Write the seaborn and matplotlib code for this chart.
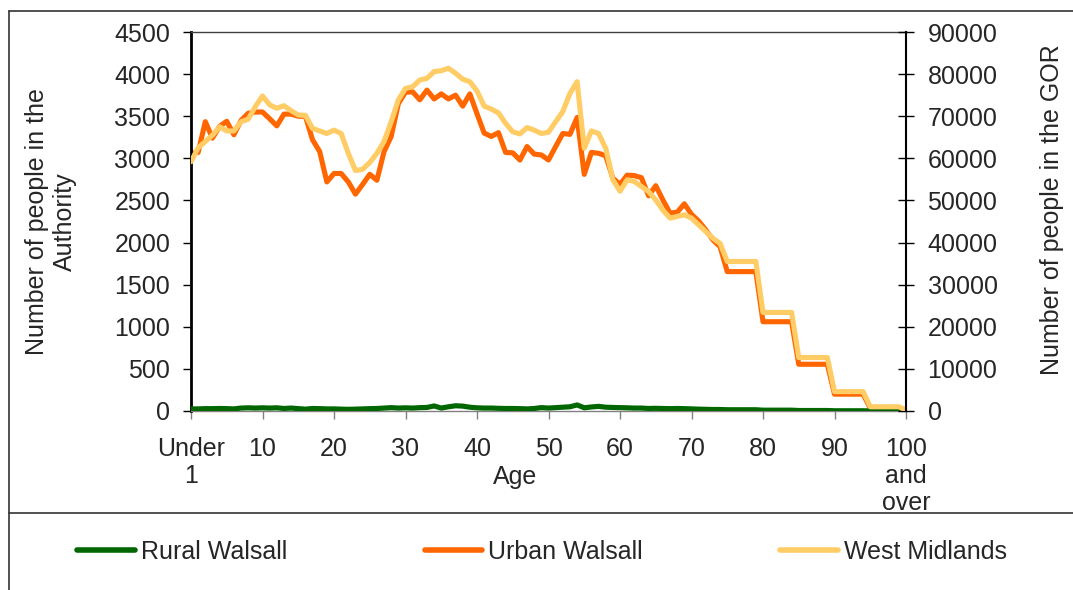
import matplotlib
matplotlib.use("Agg")
import matplotlib.pyplot as plt
from matplotlib.lines import Line2D
import numpy as np
import pandas as pd
import seaborn as sns

ages = list(range(0, 101))

urban_walsall = [
    3060, 3070, 3435, 3240, 3380, 3440, 3280, 3450, 3535, 3550,
    3550, 3470, 3385, 3525, 3525, 3500, 3500, 3220, 3080, 2720,
    2820, 2820, 2720, 2575, 2690, 2810, 2740, 3080, 3260, 3650,
    3785, 3790, 3695, 3810, 3705, 3765, 3705, 3750, 3620, 3765,
    3530, 3300, 3260, 3305, 3070, 3065, 2980, 3140, 3050, 3040,
    2980, 3140, 3295, 3285, 3485, 2810, 3070, 3060, 3030, 2765,
    2690, 2800, 2795, 2770, 2555, 2675, 2505, 2350, 2360, 2460,
    2335, 2255, 2150, 2030, 1950, 1655, 1655, 1655, 1655, 1655,
    1060, 1060, 1060, 1060, 1060, 555, 555, 555, 555, 555,
    200, 200, 200, 200, 200, 35, 35, 35, 35, 35,
    12,
]

west_midlands = [
    59200, 62500, 64000, 65500, 67500, 66500, 66500, 68700, 69300, 72300,
    74800, 72700, 71900, 72500, 71300, 70300, 70200, 67100, 66500, 65900,
    66700, 65900, 61200, 57100, 57400, 59000, 61200, 64000, 68700, 73900,
    76600, 77000, 78600, 79000, 80600, 80800, 81400, 80200, 78800, 78200,
    76000, 72400, 71700, 70800, 68300, 66300, 65800, 67300, 66700, 65900,
    66200, 68700, 71100, 75400, 78200, 62400, 66500, 65900, 62400, 54900,
    52200, 54900, 54500, 53300, 52100, 50100, 47700, 45800, 46200, 46600,
    45800, 44200, 42600, 41000, 39800, 35500, 35500, 35500, 35500, 35500,
    23400, 23400, 23400, 23400, 23400, 12700, 12700, 12700, 12700, 12700,
    4600, 4600, 4600, 4600, 4600, 1000, 1000, 1000, 1000, 1000,
    240,
]

rural_walsall = [
    25, 25, 28, 28, 30, 28, 25, 35, 38, 35,
    38, 35, 38, 30, 35, 28, 22, 30, 28, 25,
    25, 22, 20, 22, 25, 28, 30, 35, 40, 35,
    38, 35, 40, 42, 60, 35, 50, 62, 58, 45,
    38, 35, 35, 32, 30, 30, 28, 25, 30, 40,
    35, 40, 45, 50, 72, 38, 48, 55, 45, 42,
    40, 38, 35, 35, 30, 32, 30, 28, 30, 28,
    25, 22, 20, 18, 18, 15, 15, 15, 15, 15,
    10, 10, 10, 10, 10, 6, 6, 6, 6, 6,
    3, 3, 3, 3, 3, 1, 1, 1, 1, 1,
    0,
]

series_names = ["Rural Walsall", "Urban Walsall", "West Midlands"]
series_colors = ["#006600", "#FF6600", "#FFCC66"]

x_tick_values = [0, 10, 20, 30, 40, 50, 60, 70, 80, 90, 100]
x_tick_labels = ["Under\n1", "10", "20", "30", "40", "50", "60", "70", "80", "90", "100\nand\nover"]
left_ticks = list(range(0, 4501, 500))
right_ticks = list(range(0, 90001, 10000))

df = pd.DataFrame({
    "Age": ages,
    "Rural Walsall": rural_walsall,
    "Urban Walsall": urban_walsall,
    "West Midlands": west_midlands,
})

sns.set_style("white")
plt.rcParams["font.family"] = ["Liberation Sans", "DejaVu Sans"]
FS = 18

W, H = 1073, 590
fig = plt.figure(figsize=(W / 100, H / 100), dpi=100)
L, R, T, B = 191, 906, 32, 411
ax = fig.add_axes([L / W, 1 - B / H, (R - L) / W, (B - T) / H])
ax2 = ax.twinx()

lw = 3.7
sns.lineplot(data=df, x="Age", y="Rural Walsall", ax=ax, color=series_colors[0],
             linewidth=lw, label=series_names[0], zorder=3)
sns.lineplot(data=df, x="Age", y="Urban Walsall", ax=ax, color=series_colors[1],
             linewidth=lw, label=series_names[1], zorder=2)
sns.lineplot(data=df, x="Age", y="West Midlands", ax=ax2, color=series_colors[2],
             linewidth=lw, label=series_names[2])
for a in (ax, ax2):
    if a.get_legend() is not None:
        a.get_legend().remove()

ax.set_xlim(0, 100)
ax.set_ylim(0, 4500)
ax2.set_ylim(0, 90000)

ax.set_xticks(x_tick_values)
ax.set_xticklabels(x_tick_labels, fontsize=FS, linespacing=1.15)
ax.set_yticks(left_ticks)
ax.set_yticklabels([str(v) for v in left_ticks], fontsize=FS)
ax2.set_yticks(right_ticks)
ax2.set_yticklabels([str(v) for v in right_ticks], fontsize=FS)

ax.tick_params(axis="x", direction="out", length=6, width=1, color="#808080", pad=13, bottom=True)
ax.tick_params(axis="y", direction="out", length=6, width=1, color="black", pad=9, left=True)
ax2.tick_params(axis="y", direction="inout", length=11, width=1, color="black", pad=10, right=True)

for s in ["left", "right", "top", "bottom"]:
    ax.spines[s].set_visible(True)
ax.spines["left"].set_color("black")
ax.spines["left"].set_linewidth(2)
ax.spines["top"].set_color("#404040")
ax.spines["top"].set_linewidth(1)
ax.spines["bottom"].set_color("#808080")
ax.spines["bottom"].set_linewidth(1)
ax.spines["right"].set_visible(False)
for s in ["left", "top", "bottom"]:
    ax2.spines[s].set_visible(False)
ax2.spines["right"].set_visible(True)
ax2.spines["right"].set_color("black")
ax2.spines["right"].set_linewidth(1.5)

ax.set_xlabel("Age", fontsize=FS)
ax.xaxis.label.set_va("center")
ax.xaxis.set_label_coords((515 - L) / (R - L), (B - 477) / (B - T))

ax.set_ylabel("Number of people in the\nAuthority", fontsize=FS, linespacing=1.25)
ax.yaxis.label.set_va("center")
ax.yaxis.set_label_coords((51 - L) / (R - L), 0.5)

ax2.set_ylabel("Number of people in the GOR", fontsize=FS)
ax2.yaxis.label.set_va("center")
ax2.yaxis.set_label_coords((1052 - L) / (R - L), (B - 210) / (B - T))

handles = [Line2D([0], [0], color=c, linewidth=4) for c in series_colors]
fig.legend(handles, series_names, loc="center left",
           bbox_to_anchor=(77 / W, 1 - 552 / H), ncol=3, frameon=False,
           fontsize=FS, handlelength=2.3, handletextpad=0.25,
           columnspacing=5.5, borderpad=0, borderaxespad=0)

# chart frame lines
fig.add_artist(Line2D([9 / W, 1.0], [1 - 11 / H, 1 - 11 / H], transform=fig.transFigure,
                      color="#333333", linewidth=1.2))
fig.add_artist(Line2D([9 / W, 9 / W], [0.0, 1 - 11 / H], transform=fig.transFigure,
                      color="#333333", linewidth=1.2))
fig.add_artist(Line2D([9 / W, 1.0], [1 - 513 / H, 1 - 513 / H], transform=fig.transFigure,
                      color="#333333", linewidth=1.2))

fig.savefig("out.png", dpi=100)
